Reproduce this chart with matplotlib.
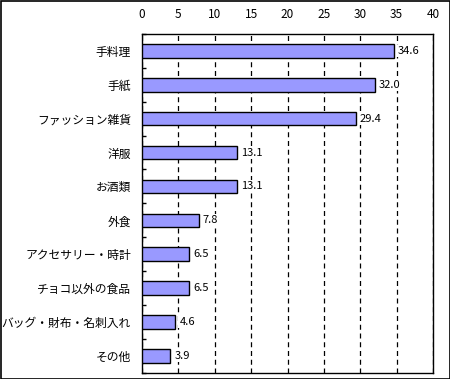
import matplotlib
matplotlib.use("Agg")
import matplotlib.pyplot as plt
from matplotlib.patches import Rectangle
import numpy as np

plt.rcParams['font.family'] = ['Noto Sans CJK JP', 'DejaVu Sans']

categories = ["手料理", "手紙", "ファッション雑貨", "洋服", "お酒類", "外食",
              "アクセサリー・時計", "チョコ以外の食品", "バッグ・財布・名刺入れ", "その他"]
values = [34.6, 32.0, 29.4, 13.1, 13.1, 7.8, 6.5, 6.5, 4.6, 3.9]
xticks = [0, 5, 10, 15, 20, 25, 30, 35, 40]

fig = plt.figure(figsize=(4.5, 3.79), dpi=100)
ax = fig.add_axes([142/450, 1-372.7/379, (433-142)/450, (372.7-34)/379])

y = np.arange(len(categories))
ax.barh(y, values, height=0.4, color='#9999FF', edgecolor='black', linewidth=1, zorder=3)
for yi, v in zip(y, values):
    ax.annotate(f"{v:.1f}", xy=(v, yi), xytext=(2.8, 0), textcoords='offset points',
                va='center', ha='left', fontsize=8, zorder=4,
                bbox=dict(facecolor='white', edgecolor='none', pad=0.8))

ax.set_xlim(0, 40)
ax.set_ylim(len(categories) - 0.5, -0.5)
ax.set_xticks(xticks)
ax.xaxis.tick_top()
ax.tick_params(axis='x', length=0, pad=9, labelsize=8.5)
ax.set_yticks(y)
ax.set_yticklabels(categories)
ax.tick_params(axis='y', which='major', length=0, pad=8, labelsize=8.5)
ax.set_yticks(np.arange(len(categories) + 1) - 0.5, minor=True)
ax.tick_params(axis='y', which='minor', direction='in', length=3, width=1)
ax.grid(axis='x', color='black', linestyle=(0, (4, 3)), linewidth=0.9, zorder=1)
for s in ax.spines.values():
    s.set_linewidth(1)
    s.set_color('black')

fig.patches.append(Rectangle((0.5/450, 0.5/379), 449/450, 378/379, transform=fig.transFigure,
                             fill=False, edgecolor='black', linewidth=1.2))
fig.savefig("out.png", dpi=100)
